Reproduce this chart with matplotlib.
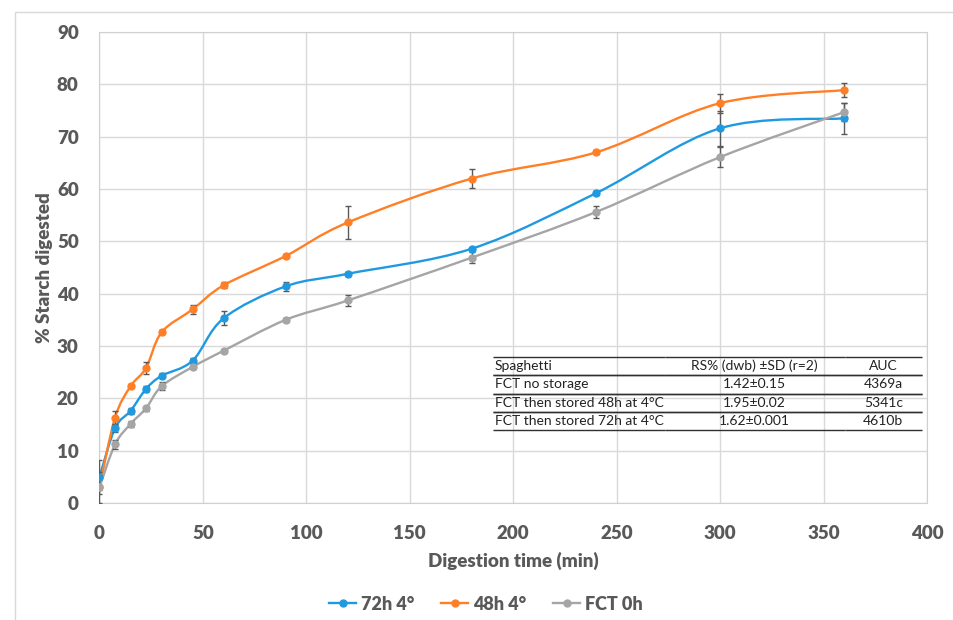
import numpy as np
import matplotlib
matplotlib.use("Agg")
from matplotlib import pyplot as plt
from matplotlib.path import Path
from matplotlib.patches import PathPatch, Rectangle

plt.rcParams['font.family'] = ['Lato', 'DejaVu Sans']

# digestion time (min)
time = [0, 7.5, 15, 22.5, 30, 45, 60, 90, 120, 180, 240, 300, 360]

h72 = [5.0, 14.3, 17.6, 21.8, 24.3, 27.2, 35.3, 41.4, 43.8, 48.6, 59.2, 71.6, 73.5]
h72_sd = [3.2, 0.8, 0.5, 0.6, 0.5, 0.5, 1.3, 0.8, 0.4, 0.4, 0.4, 3.3, 3.0]

h48 = [3.0, 16.3, 22.3, 25.8, 32.6, 37.0, 41.6, 47.2, 53.6, 62.0, 67.0, 76.4, 78.9]
h48_sd = [0.5, 1.3, 0.4, 1.1, 0.4, 0.8, 0.6, 0.4, 3.2, 1.8, 0.4, 1.8, 1.4]

fct0 = [3.0, 11.2, 15.1, 18.1, 22.3, 26.0, 29.1, 35.0, 38.7, 46.9, 55.6, 66.1, 74.7]
fct0_sd = [3.0, 0.8, 0.5, 0.5, 0.8, 0.4, 0.4, 0.4, 1.1, 1.1, 1.1, 1.9, 1.8]

series_names = ["72h 4°", "48h 4°", "FCT 0h"]
series_colors = ["#1f9ae0", "#ff7f27", "#a5a5a5"]

table_header = ["Spaghetti", "RS% (dwb) ±SD (r=2)", "AUC"]
table_rows = [["FCT no storage", "1.42±0.15", "4369a"],
              ["FCT then stored 48h at 4°C", "1.95±0.02", "5341c"],
              ["FCT then stored 72h at 4°C", "1.62±0.001", "4610b"]]


def smooth_path(x, y):
    # excel-like smoothed line, cubic bezier through every point
    pts = np.column_stack([x, y])
    n = len(pts)
    verts = [pts[0]]
    codes = [Path.MOVETO]
    for i in range(n - 1):
        p0 = pts[max(i - 1, 0)]
        p1 = pts[i]
        p2 = pts[i + 1]
        p3 = pts[min(i + 2, n - 1)]
        verts += [p1 + (p2 - p0) / 6, p2 - (p3 - p1) / 6, p2]
        codes += [Path.CURVE4] * 3
    return Path(verts, codes)


fig = plt.figure(figsize=(9.54, 6.2), dpi=100)
ax = fig.add_axes([99.5 / 954, 1 - 503 / 620, 827.5 / 954, 471 / 620])

# chart area border
fig.patches.append(Rectangle((15 / 954, -0.1), 1.0, 1.1 - 12 / 620, transform=fig.transFigure,
                             fill=False, edgecolor="#d9d9d9", lw=1))

handles = []
for vals, sd, col, name in zip([h72, h48, fct0], [h72_sd, h48_sd, fct0_sd], series_colors, series_names):
    ax.add_patch(PathPatch(smooth_path(time, vals), fill=False, edgecolor=col, lw=1.7, zorder=3))
    ax.errorbar(time, vals, yerr=sd, fmt="none", ecolor="#595959", elinewidth=1, capsize=2.5,
                capthick=1, zorder=4)
    ax.plot(time, vals, "o", color=col, ms=5, zorder=5)
    h, = ax.plot([], [], "-o", color=col, ms=5, lw=1.7, label=name)
    handles.append(h)

ax.set_xlim(0, 400)
ax.set_ylim(0, 90)
ax.set_xticks(np.arange(0, 401, 50))
ax.set_yticks(np.arange(0, 91, 10))
ax.grid(True, color="#d9d9d9", lw=1)
ax.set_axisbelow(True)
for s in ax.spines.values():
    s.set_color("#d0d0d0")
ax.tick_params(length=0, colors="#595959", labelsize=13.5)
ax.tick_params(axis="y", pad=15)
ax.tick_params(axis="x", pad=16)
for lab in ax.get_xticklabels() + ax.get_yticklabels():
    lab.set_fontweight("heavy")

ax.set_xlabel("Digestion time (min)", fontsize=13.5, fontweight="heavy", color="#595959", labelpad=7)
ax.set_ylabel("% Starch digested", fontsize=13.5, fontweight="heavy", color="#595959", labelpad=3)

# the RS / AUC table
x0 = (493 - 99.5) / 827.5
x1 = (922 - 99.5) / 827.5
y_top = (503 - 357) / 471
y_bot = (503 - 430) / 471
tab = ax.table(cellText=table_rows, colLabels=table_header, colWidths=[0.40, 0.42, 0.18],
               bbox=[x0, y_bot, x1 - x0, y_top - y_bot], zorder=6)
tab.auto_set_font_size(False)
for (r, c), cell in tab.get_celld().items():
    cell.set_facecolor("white")
    cell.visible_edges = "horizontal"
    cell.set_edgecolor("#303030")
    cell.set_linewidth(1.0)
    cell.get_text().set_fontsize(10)
    cell.get_text().set_color("#222222")
    if c == 0:
        cell.get_text().set_ha("left")
        cell.PAD = 0.01
    else:
        cell.get_text().set_ha("center")

fig.legend(handles=handles, loc="center", bbox_to_anchor=(486 / 954, 1 - 604 / 620), ncol=3,
           frameon=False, prop={"size": 13, "weight": "heavy"}, labelcolor="#595959",
           handlelength=1.5, handletextpad=0.25, columnspacing=1.5)

fig.savefig("out.png", dpi=100)
